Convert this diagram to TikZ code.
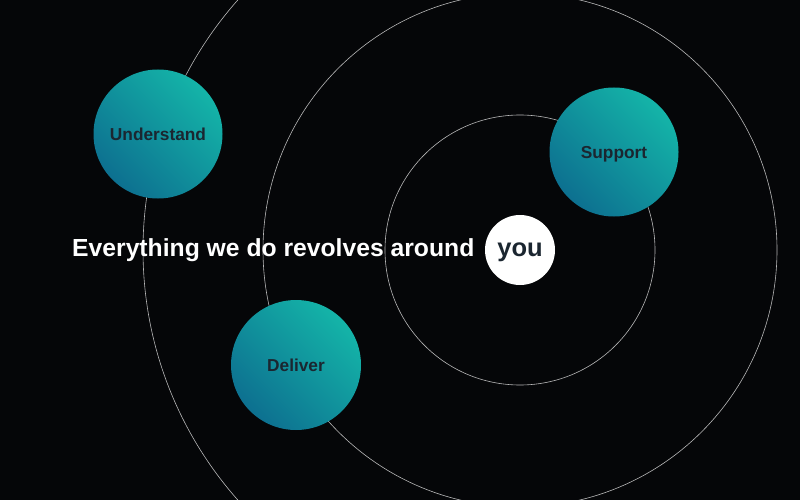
\documentclass[tikz,border=0pt]{standalone}
\usepackage{fontspec}
\setmainfont{Liberation Sans}
\begin{document}
\begin{tikzpicture}[x=1pt,y=-1pt,
  ring/.style={draw=ringgray, line width=0.6pt},
  bubble/.style={circle, minimum size=129pt, inner sep=0pt, text depth=0pt,
    top color=tealtop, bottom color=tealbot, shading angle=-45,
    font=\bfseries\fontsize{17.3}{20}\selectfont, text=labeltext},
  headline/.style={text=white, font=\bfseries\fontsize{24.7}{30}\selectfont, inner sep=0pt}
]
\definecolor{bg}{HTML}{050608}
\definecolor{ringgray}{HTML}{B8B8B8}
\definecolor{tealtop}{HTML}{14B4A8}
\definecolor{tealbot}{HTML}{0D7090}
\definecolor{labeltext}{HTML}{1B2630}
\fill[bg] (0,0) rectangle (800,500);
\useasboundingbox (0,0) rectangle (800,500);
\begin{scope}
\clip (0,0) rectangle (800,500);
\coordinate (c) at (520,250);
\draw[ring] (c) circle[radius=135];
\draw[ring] (c) circle[radius=257];
\draw[ring] (c) circle[radius=377];
\end{scope}
\node[bubble] (understand) at (158,134) {Understand};
\node[bubble] (support) at (614,152) {Support};
\node[bubble, minimum size=130pt] (deliver) at (296,365) {Deliver};
\node[headline, anchor=base west] (head) at (72,256) {Everything we do revolves around};
\node[circle, fill=white, minimum size=70pt, inner sep=0pt, text=labeltext, text depth=0pt,
  font=\bfseries\fontsize{25.5}{30}\selectfont] (you) at (520,250) {you};
\end{tikzpicture}
\end{document}
